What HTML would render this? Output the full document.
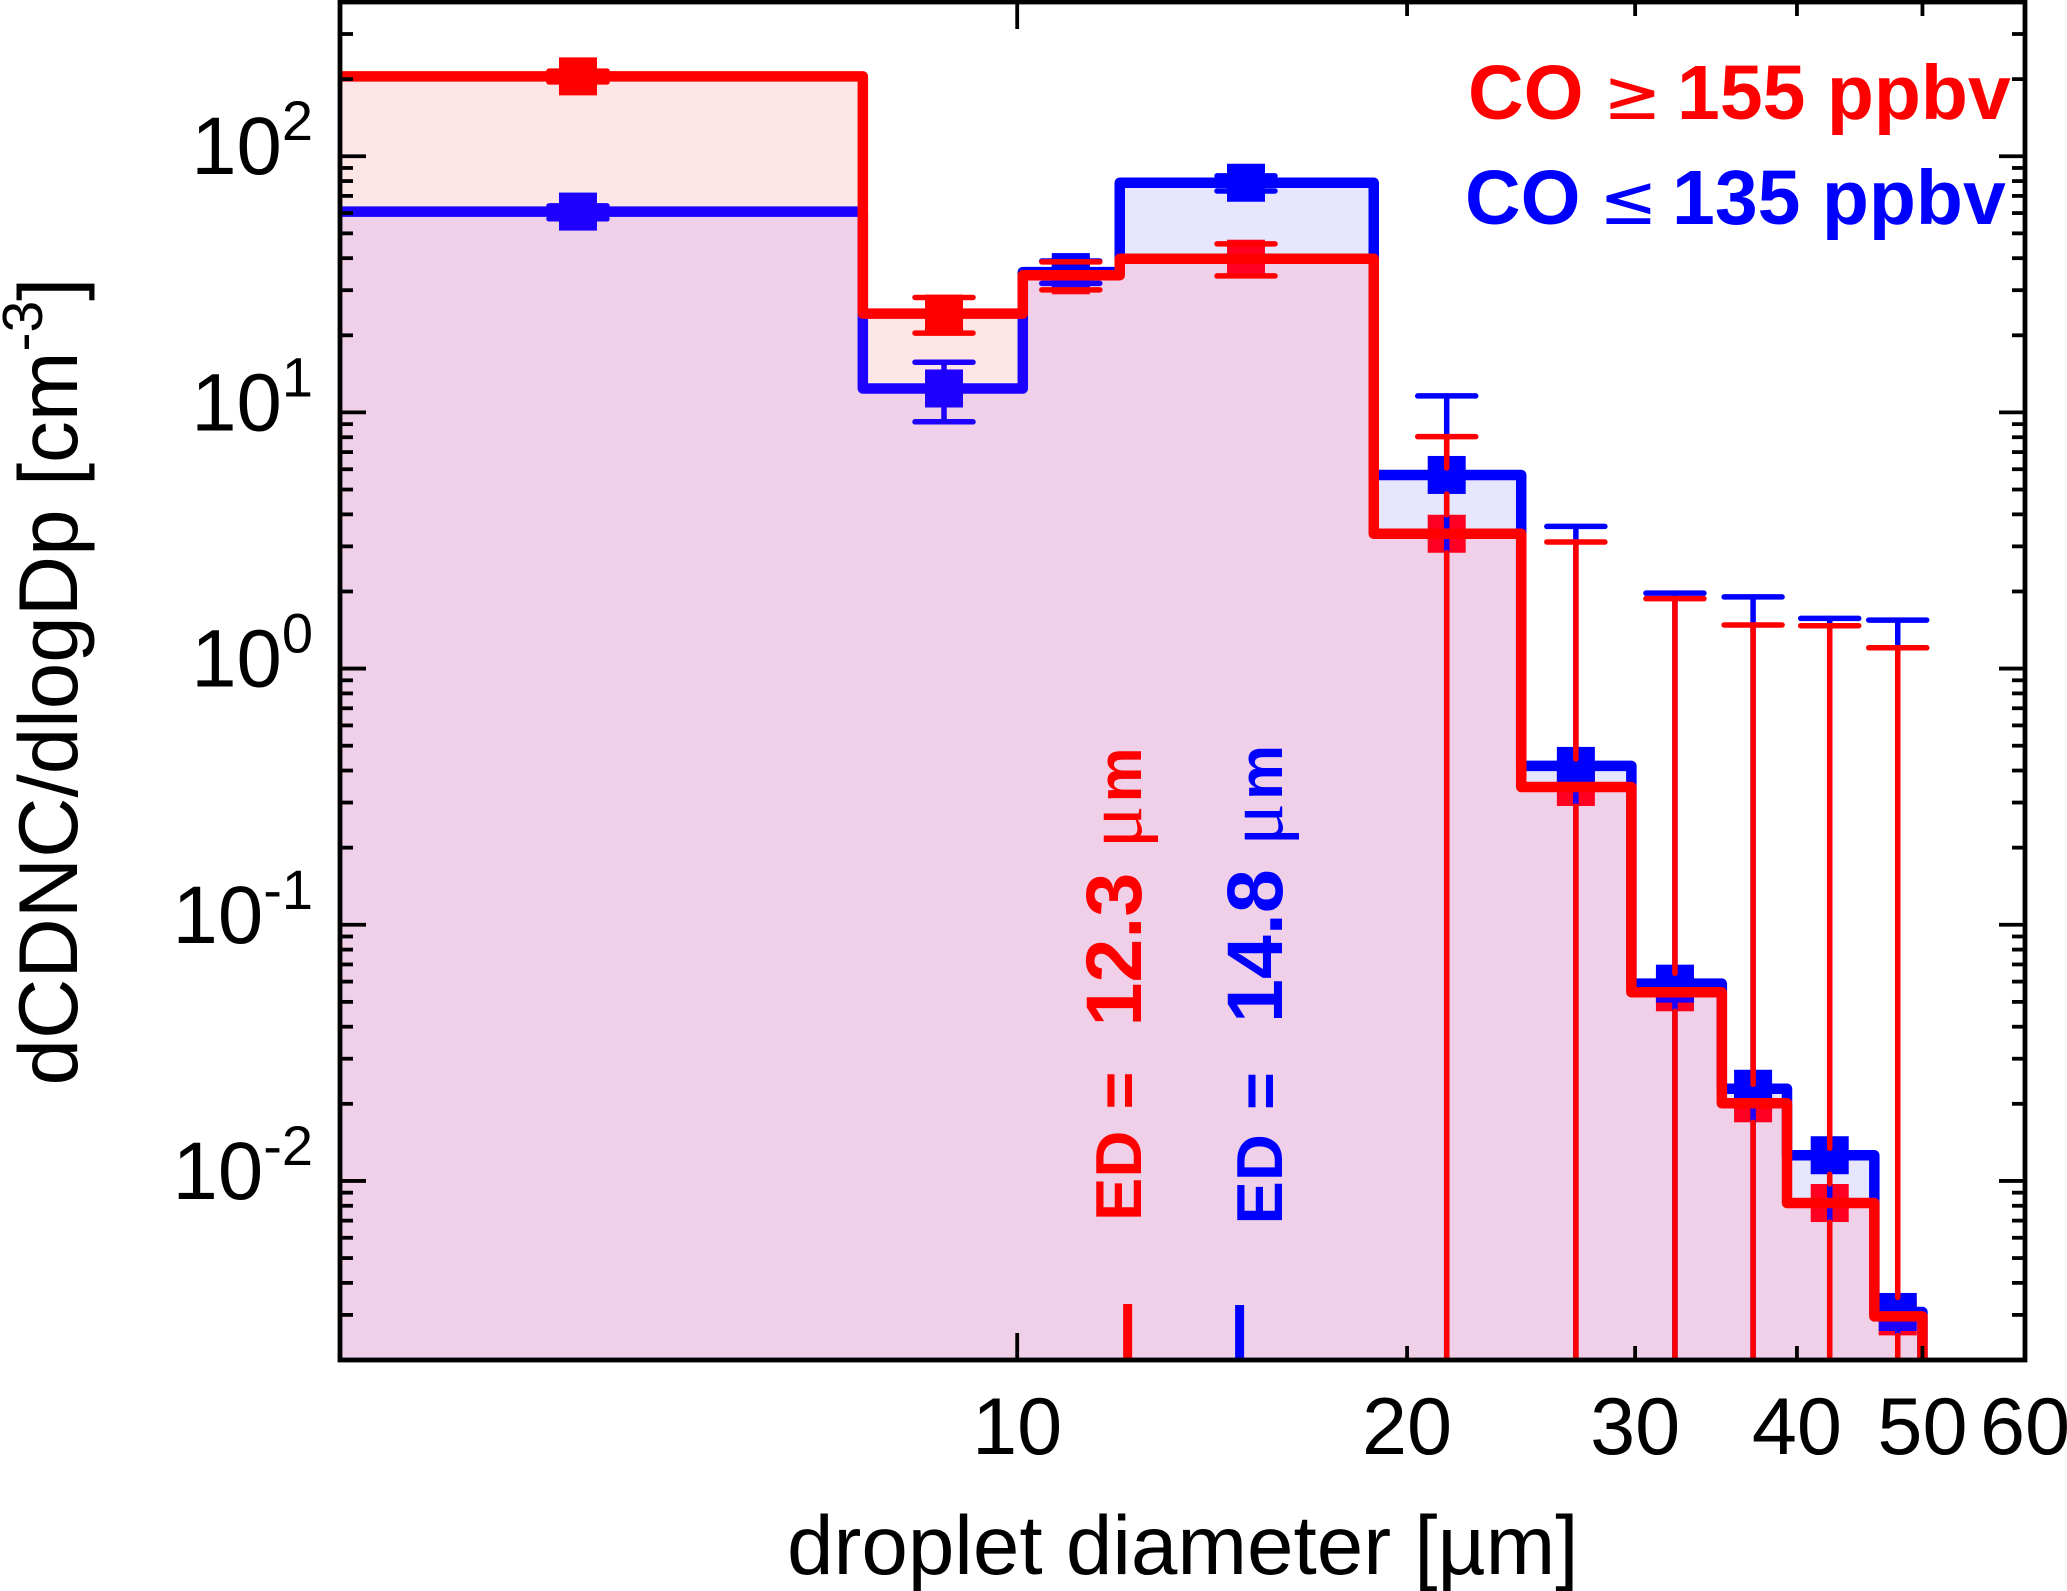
<!DOCTYPE html>
<html lang="en">
<head>
<meta charset="utf-8">
<title>Droplet size distribution</title>
<style>
  html, body { margin: 0; padding: 0; background: #fff; }
  svg { display: block; font-family: "Liberation Sans", sans-serif; }
</style>
</head>
<body>
<svg id="chart" xmlns="http://www.w3.org/2000/svg" width="2067" height="1591" viewBox="0 0 2067 1591">
  <defs>
    <clipPath id="plot-clip"><rect x="340" y="2" width="1685" height="1358"/></clipPath>
  </defs>
  <g id="plot" clip-path="url(#plot-clip)"></g>
  <g id="axes"></g>

  <text x="787" y="1574" font-size="83.6" fill="#000">droplet diameter [µm]</text>
  <text transform="translate(77,1085.5) rotate(-90)" font-size="83.6" fill="#000">dCDNC/dlogDp [cm<tspan dy="-35" font-size="57">-3</tspan><tspan dy="35">]</tspan></text>

  <text y="119" font-size="77" font-weight="bold" fill="#ff0000"><tspan x="1468">CO</tspan><tspan x="1603" font-weight="normal" font-size="70" font-family="DejaVu Sans, sans-serif">≥</tspan><tspan x="1677">155 ppbv</tspan></text>
  <text y="224" font-size="77" font-weight="bold" fill="#0000ff"><tspan x="1465">CO</tspan><tspan x="1599" font-weight="normal" font-size="70" font-family="DejaVu Sans, sans-serif">≤</tspan><tspan x="1672">135 ppbv</tspan></text>

  <text transform="translate(1141,1216.5) rotate(-90)" font-weight="bold" fill="#ff0000" font-size="65"><tspan x="-4.5">ED</tspan><tspan x="107">=</tspan><tspan x="190" font-size="79">12.3</tspan><tspan x="368" font-size="80" font-weight="normal" font-family="Liberation Serif, serif">μ</tspan><tspan x="414" font-size="62">m</tspan></text>
  <text transform="translate(1282,1220) rotate(-90)" font-weight="bold" fill="#0000ff" font-size="65"><tspan x="-4.5">ED</tspan><tspan x="110">=</tspan><tspan x="197" font-size="79">14.8</tspan><tspan x="374" font-size="80" font-weight="normal" font-family="Liberation Serif, serif">μ</tspan><tspan x="420" font-size="62">m</tspan></text>

<script>
// ---- chart data ----
const binEdges = [3, 7.6, 10.1, 12, 18.85, 24.5, 29.8, 35, 39.3, 45.9, 50];
const pointDiameters = [4.58, 8.78, 11.0, 15.02, 21.46, 27.0, 32.2, 37.0, 42.4, 47.85];
const redValues = [205, 24.3, 34.3, 39.8, 3.36, 0.345, 0.0545, 0.0201, 0.0082, 0.00296];
const blueValues = [60.8, 12.4, 35.3, 78.8, 5.7, 0.417, 0.0589, 0.0229, 0.0126, 0.00308];
const redUpper = [215, 28.1, 38.7, 45.5, 8.04, 3.12, 1.875, 1.48, 1.47, 1.206];
const redLower = [195, 20.4, 30.1, 34.1, 0.001, 0.001, 0.001, 0.001, 0.001, 0.001];
const blueUpper = [64, 15.7, 39, 83.8, 11.6, 3.59, 1.97, 1.905, 1.57, 1.546];
const blueLower = [57, 9.19, 31.9, 73.2, 0.001, 0.001, 0.001, 0.001, 0.001, 0.001];
const edRed = [12.17];
const edBlue = [14.85];
const xMajorTicks = [10];
const xMinorTicks = [20, 30, 40, 50];
const xTickLabels = [10, 20, 30, 40, 50, 60];
const yDecades = [-3, -2, -1, 0, 1, 2];
const yMinorFactors = [2, 3, 4, 5, 6, 7, 8, 9];
const yLabelExponents = [2, 1, 0, -1, -2];

// ---- axis functions ----
const xDomain = [3, 60];
const yDomain = [0.002, 400];
const xRange = [340, 2025];
const yRange = [1360, 2];
function xScale(v) {
  return xRange[0] + (Math.log10(v) - Math.log10(xDomain[0])) / (Math.log10(xDomain[1]) - Math.log10(xDomain[0])) * (xRange[1] - xRange[0]);
}
function yScale(v) {
  return yRange[0] + (Math.log10(v) - Math.log10(yDomain[0])) / (Math.log10(yDomain[1]) - Math.log10(yDomain[0])) * (yRange[1] - yRange[0]);
}

const SVGNS = 'http://www.w3.org/2000/svg';
const plot = document.getElementById('plot');
const axes = document.getElementById('axes');
function make(tag, attrs, parent) {
  const n = document.createElementNS(SVGNS, tag);
  for (const k in attrs) n.setAttribute(k, attrs[k]);
  parent.appendChild(n);
  return n;
}

function stepPath(values) {
  let d = 'M' + xScale(binEdges[0]) + ' ' + yScale(values[0]);
  for (let i = 0; i < values.length; i++) {
    d += ' H' + xScale(binEdges[i + 1]);
    d += ' V' + (i + 1 < values.length ? yScale(values[i + 1]) : yRange[0] + 20);
  }
  return d;
}
function fillPath(values) {
  return stepPath(values) + ' H' + xScale(binEdges[0]) + ' Z';
}

const MARKER = 38;
const CAP = 58;
const LINE_WIDTH = 10.5;

function drawMarkers(values, color, label) {
  values.forEach(function (v, i) {
    const m = make('rect', { x: xScale(pointDiameters[i]) - MARKER / 2, y: yScale(v) - MARKER / 2, width: MARKER, height: MARKER, fill: color }, plot);
    
    
  });
}
function drawCap(xp, v, color, label) {
  const cy = yScale(v);
  const c = make('line', { x1: xp - CAP / 2, x2: xp + CAP / 2, y1: cy, y2: cy, stroke: color, 'stroke-width': 5.5, 'stroke-linecap': 'round' }, plot);
  
  
}
function drawStem(xp, y1, y2, color, label) {
  if (y2 <= y1) return;
  const s = make('line', { x1: xp, x2: xp, y1: y1, y2: y2, stroke: color, 'stroke-width': 5.5, 'stroke-linecap': 'round' }, plot);
  
  
}

// opaque pale areas at the bottom of the stack
const redArea = make('path', { d: fillPath(redValues), fill: '#ffe6e6' }, plot);


const blueArea = make('path', { d: fillPath(blueValues), fill: '#e6e6ff' }, plot);


const overlapValues = redValues.map(function (r, i) { return Math.min(r, blueValues[i]); });
const overlapArea = make('path', { d: fillPath(overlapValues), fill: '#f0d0e8' }, plot);



drawMarkers(redValues, '#ff0000', 'red');

pointDiameters.forEach(function (d, i) {
  const xp = xScale(d);
  const yc = yScale(blueValues[i]);
  drawStem(xp, yScale(blueUpper[i]), yc, '#0000ff', 'blue');
  drawStem(xp, yc, yScale(blueLower[i]), '#0000ff', 'blue');
  drawCap(xp, blueUpper[i], '#0000ff', 'blue');
  drawCap(xp, blueLower[i], '#0000ff', 'blue');
});
const blueLine = make('path', { d: stepPath(blueValues), fill: 'none', stroke: '#0000ff', 'stroke-width': LINE_WIDTH, 'stroke-linejoin': 'round' }, plot);


drawMarkers(blueValues, '#0000ff', 'blue');

// saturated marks inside the other series' area pick up a slight tint
const blueTint = make('path', { d: fillPath(blueValues), fill: 'rgb(0,0,34)', style: 'mix-blend-mode:lighten' }, plot);


const redTint = make('path', { d: fillPath(redValues), fill: 'rgb(30,0,0)', style: 'mix-blend-mode:lighten' }, plot);



const redLine = make('path', { d: stepPath(redValues), fill: 'none', stroke: '#ff0000', 'stroke-width': LINE_WIDTH, 'stroke-linejoin': 'round' }, plot);



// red error bars on top; they leave the marker body open
pointDiameters.forEach(function (d, i) {
  const xp = xScale(d);
  const yc = yScale(redValues[i]);
  const yb = yScale(blueValues[i]);
  const top = yc - MARKER / 2;
  const bottom = yc + MARKER / 2;
  const yu = yScale(redUpper[i]);
  if (yb + MARKER / 2 > yu && yb < top) {
    drawStem(xp, yu, Math.min(top, yb - 7), '#ff0000', 'red');
    drawStem(xp, yb + MARKER / 2, top, '#ff0000', 'red');
  } else {
    drawStem(xp, yu, top, '#ff0000', 'red');
  }
  drawStem(xp, bottom, yScale(redLower[i]), '#ff0000', 'red');
  drawCap(xp, redUpper[i], '#ff0000', 'red');
  drawCap(xp, redLower[i], '#ff0000', 'red');
});

// effective diameter markers
edRed.forEach(function (v) {
  const t = make('line', { x1: xScale(v), x2: xScale(v), y1: 1304, y2: 1360, stroke: '#ff0000', 'stroke-width': 9 }, plot);
  
  
});
edBlue.forEach(function (v) {
  const t = make('line', { x1: xScale(v), x2: xScale(v), y1: 1305, y2: 1360, stroke: '#0000ff', 'stroke-width': 9 }, plot);
  
  
});

// ---- ticks ----
function xTick(v, len) {
  const xp = xScale(v);
  const b = make('line', { x1: xp, x2: xp, y1: yRange[0], y2: yRange[0] - len, stroke: '#000', 'stroke-width': 3.8 }, axes);
  
  
  const t = make('line', { x1: xp, x2: xp, y1: yRange[1], y2: yRange[1] + len, stroke: '#000', 'stroke-width': 3.8 }, axes);
  
  
}
function yTick(v, len) {
  const yp = yScale(v);
  if (yp < yRange[1] || yp > yRange[0]) return;
  const l = make('line', { x1: xRange[0], x2: xRange[0] + len, y1: yp, y2: yp, stroke: '#000', 'stroke-width': 3.8 }, axes);
  
  
  const r = make('line', { x1: xRange[1], x2: xRange[1] - len, y1: yp, y2: yp, stroke: '#000', 'stroke-width': 3.8 }, axes);
  
  
}
xMajorTicks.forEach(function (v) { xTick(v, 27); });
xMinorTicks.forEach(function (v) { xTick(v, 14); });
yDecades.forEach(function (e) {
  yTick(Math.pow(10, e), 26);
  yMinorFactors.forEach(function (f) { yTick(f * Math.pow(10, e), 13); });
});

// ---- tick labels ----
xTickLabels.forEach(function (v) {
  const t = make('text', { x: xScale(v), y: 1454, 'font-size': 81, 'text-anchor': 'middle', fill: '#000' }, axes);
  
  
  t.textContent = String(v);
});
yLabelExponents.forEach(function (e) {
  const t = make('text', { x: 313, y: yScale(Math.pow(10, e)) + 18, 'font-size': 81.5, 'text-anchor': 'end', fill: '#000' }, axes);
  
  
  t.appendChild(document.createTextNode('10'));
  const s = make('tspan', { dy: -34, 'font-size': 56 }, t);
  s.textContent = String(e);
});

// ---- frame ----
const frame = make('rect', { x: xRange[0], y: yRange[1], width: xRange[1] - xRange[0], height: yRange[0] - yRange[1], fill: 'none', stroke: '#000', 'stroke-width': 4.8 }, axes);


</script>
</svg>
</body>
</html>
